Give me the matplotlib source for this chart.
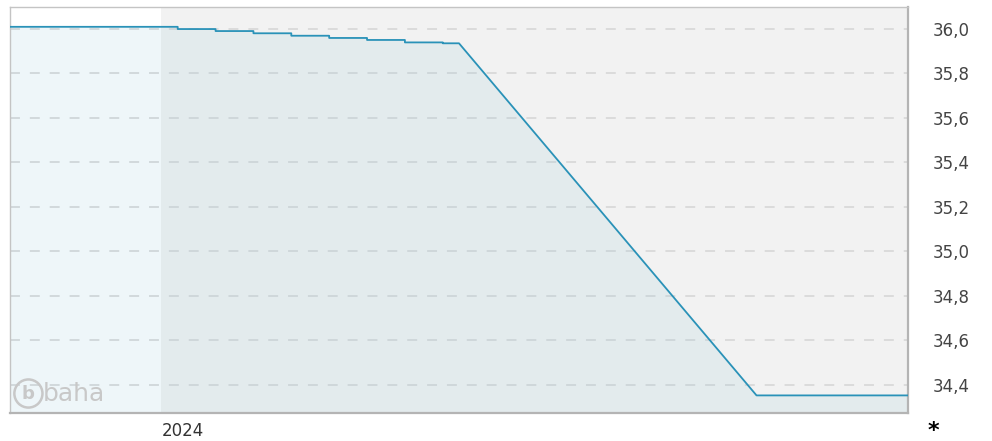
import numpy as np
import pandas as pd
import matplotlib
matplotlib.use("Agg")
import matplotlib.pyplot as plt
import matplotlib.dates as mdates

# price path (vertices of the step line)
dates = pd.to_datetime([
    "2023-12-04", "2024-01-04", "2024-01-04", "2024-01-11", "2024-01-11",
    "2024-01-18", "2024-01-18", "2024-01-25", "2024-01-25", "2024-02-01",
    "2024-02-01", "2024-02-08", "2024-02-08", "2024-02-15", "2024-02-15",
    "2024-02-22", "2024-02-22", "2024-02-25", "2024-04-20", "2024-05-18",
])
values = [
    36.008, 36.008, 35.998, 35.998, 35.989,
    35.989, 35.979, 35.979, 35.968, 35.968,
    35.958, 35.958, 35.949, 35.949, 35.938,
    35.938, 35.934, 35.934, 34.353, 34.353,
]
year_start = pd.Timestamp("2024-01-01")
yticks = [34.4, 34.6, 34.8, 35.0, 35.2, 35.4, 35.6, 35.8, 36.0]
ylabels = ["34,4", "34,6", "34,8", "35,0", "35,2", "35,4", "35,6", "35,8", "36,0"]

fig = plt.figure(figsize=(9.92, 4.41), dpi=100)
ax = fig.add_axes([10/992, 28/441, 898/992, 406/441])
ax.set_facecolor("#f2f2f2")

x0, x1 = dates[0], dates[-1]
ax.set_xlim(x0, x1)
ax.set_ylim(34.274, 36.097)

# previous year shaded white
ax.axvspan(x0, year_start, color="white", zorder=0, lw=0)

for y in yticks:
    ax.axhline(y, color="#d5d5d5", lw=1.1, linestyle=(0, (6.5, 6.5)), zorder=1)

ax.fill_between(dates, values, 34.274, color=(142/255, 195/255, 215/255),
                alpha=0.15, lw=0, zorder=2)
ax.plot(dates, values, color="#2a92b8", lw=1.3, zorder=3)

ax.yaxis.tick_right()
ax.set_yticks(yticks)
ax.set_yticklabels(ylabels)
ax.tick_params(axis="y", length=0, pad=18, labelsize=12, labelcolor="#444444")

ax.set_xticks([year_start])
ax.set_xticklabels(["2024"], ha="left")
ax.tick_params(axis="x", length=0, pad=6.5, labelsize=12, labelcolor="#333333")

for s in ["top", "left"]:
    ax.spines[s].set_color("#c4c4c4")
    ax.spines[s].set_linewidth(1.0)
for s in ["bottom", "right"]:
    ax.spines[s].set_color("#b4b4b4")
    ax.spines[s].set_linewidth(1.6)

# watermark
ax.text(0.0205, 0.048, r"$\mathbf{b}$", transform=ax.transAxes, fontsize=13,
        color="#c8c8c8", ha="center", va="center", zorder=4,
        bbox=dict(boxstyle="circle,pad=0.28", fc="none", ec="#c8c8c8", lw=1.8))
ax.text(0.036, 0.0296, "baha", transform=ax.transAxes, fontsize=18,
        color="#c8c8c8", ha="left", va="baseline", zorder=4)

fig.text(934/992, 1 - 429/441, r"$\mathbf{*}$", fontsize=16,
         color="black", ha="center", va="center")

fig.savefig("out.png", dpi=100)
